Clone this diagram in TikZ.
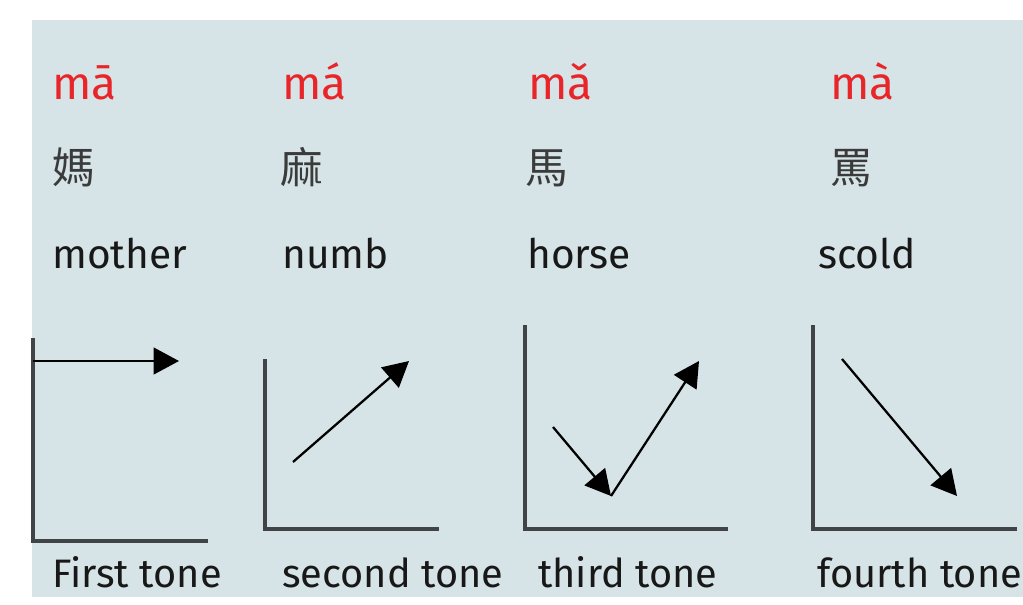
\documentclass[tikz,border=0pt]{standalone}
\usepackage{fontspec}
\setmainfont{Fira Sans}
\newfontfamily\hanzi{Noto Sans CJK TC}
\usetikzlibrary{arrows.meta}
\definecolor{paper}{RGB}{214, 228, 231}
\definecolor{tonered}{RGB}{232, 38, 42}
\definecolor{rule}{RGB}{64, 68, 70}
\definecolor{ink}{RGB}{24, 24, 24}

\tikzset{
  pinyin/.style={anchor=base west, inner sep=0, text=tonered, font=\fontsize{34.5}{34.5}\selectfont},
  glyph/.style={anchor=base west, inner sep=0, text=ink!85, font=\hanzi\fontsize{32}{32}\selectfont},
  gloss/.style={anchor=base west, inner sep=0, text=ink, font=\fontsize{30.5}{30.5}\selectfont},
  label/.style={gloss, font=\fontsize{29.8}{29.8}\selectfont},
  axes/.style={draw=rule, line width=2.3pt},
  contour/.style={draw=black, line width=1.7pt, -{Triangle[length=19pt, width=20pt]}}
}

\begin{document}
\begin{tikzpicture}[x=0.75pt, y=-0.75pt]
  \useasboundingbox (0, 0) rectangle (1023, 604);
  \clip (0, 0) rectangle (1023, 604);
  \fill[paper] (32, 20) rectangle (1023, 597);

  \foreach \n/\px/\cx/\wx/\bx/\p/\c/\w/\t in {1/52/52/52/52/mā/媽/mother/First tone, 2/282/280/282/282/má/麻/numb/second tone, 3/528/525/527/538/mǎ/馬/horse/third tone, 4/830/830/818/817/mà/罵/scold/fourth tone} {
    \node[pinyin] (p\n) at (\px, 99) {\p};
    \node[glyph] (c\n) at (\cx, 183) {\c};
    \node[gloss] (w\n) at (\wx, 268) {\w};
    \node[label] (t\n) at (\bx, 587) {\t};
  }

  % first tone
  \draw[axes] (33, 338) |- (208, 541);
  \coordinate (s1) at (33, 361);
  \coordinate (e1) at (179, 361);
  \draw[contour] (s1) -- (e1);

  % second tone
  \draw[axes] (265, 359) |- (439, 529);
  \coordinate (s2) at (293, 462);
  \coordinate (e2) at (409, 361);
  \draw[contour] (s2) -- (e2);

  % third tone
  \draw[axes] (525, 325) |- (728, 529);
  \coordinate (s3) at (553, 427);
  \coordinate (m3) at (611, 496);
  \coordinate (e3) at (699, 361);
  \draw[contour] (s3) -- (m3);
  \draw[contour] (m3) -- (e3);

  % fourth tone
  \draw[axes] (813, 325) |- (1017, 529);
  \coordinate (s4) at (842, 359);
  \coordinate (e4) at (957, 496);
  \draw[contour] (s4) -- (e4);

\end{tikzpicture}
\end{document}
